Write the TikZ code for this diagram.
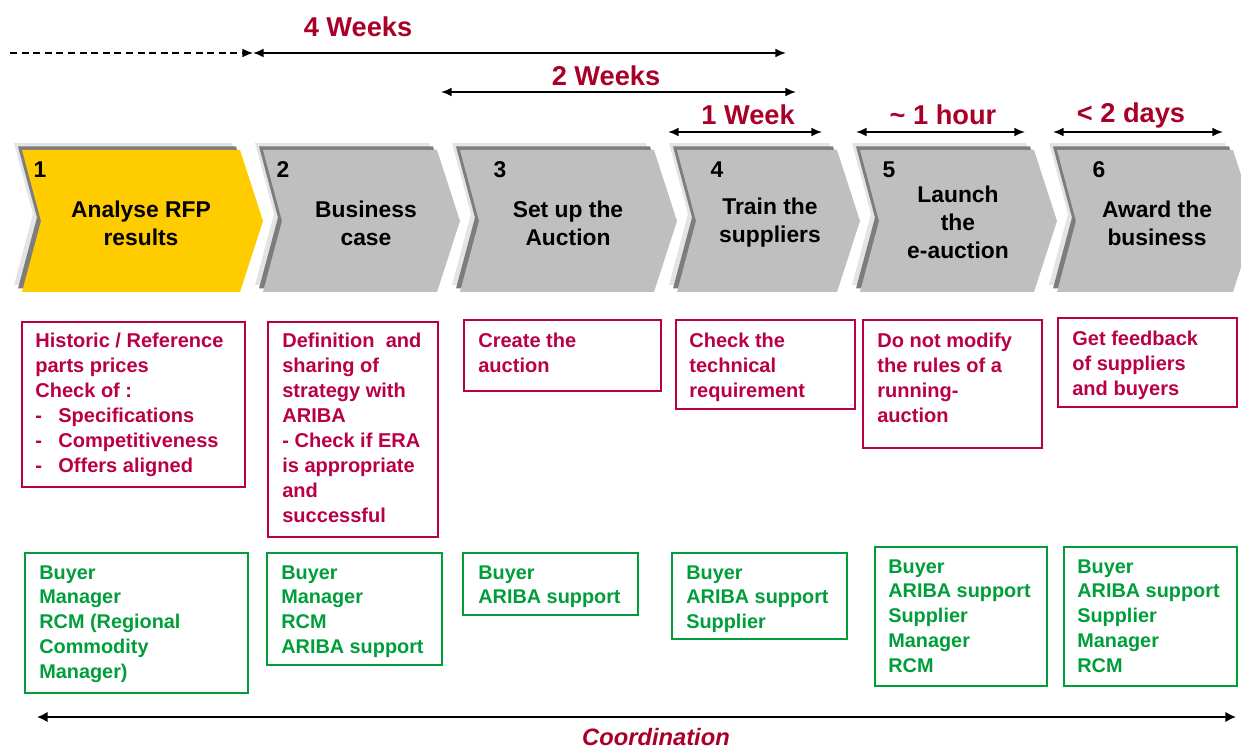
\documentclass[tikz,border=0pt]{standalone}
\usepackage{fontspec}
\setmainfont{Liberation Sans}
\usetikzlibrary{arrows.meta}
\definecolor{chevyellow}{RGB}{255,204,0}
\definecolor{chevgray}{RGB}{191,191,191}
\definecolor{shadedark}{RGB}{125,125,125}
\definecolor{shadelight}{RGB}{228,228,228}
\definecolor{timered}{RGB}{168,0,40}
\definecolor{taskred}{RGB}{185,0,70}
\definecolor{rolegreen}{RGB}{0,158,58}
\newcommand{\dashline}[1]{\makebox[0.46cm][l]{-}#1}
\begin{document}
\begin{tikzpicture}[x=0.02cm,y=-0.02cm,
  chevnum/.style={font=\fontsize{13}{15.9}\selectfont\bfseries,inner sep=0pt},
  chevtitle/.style={font=\fontsize{13}{15.9}\selectfont\bfseries,align=center,inner sep=0pt},
  timelabel/.style={font=\fontsize{15.5}{18}\selectfont\bfseries,text=timered,inner sep=0pt},
  timearrow/.style={line width=1pt,{Latex[length=6pt,width=5pt]}-{Latex[length=6pt,width=5pt]}},
  taskbox/.style={draw=taskred,line width=1.6pt},
  tasktext/.style={font=\fontsize{11.4}{14.2}\selectfont\bfseries,text=taskred,align=left,anchor=north west,inner sep=0pt},
  rolebox/.style={draw=rolegreen,line width=1.6pt},
  roletext/.style={font=\fontsize{11.3}{14.1}\selectfont\bfseries,text=rolegreen,align=left,anchor=north west,inner sep=0pt}]
\useasboundingbox (0,0) rectangle (1241,749);
\clip (0,0) rectangle (1241,749);

% chevrons with their bevel
\foreach \l/\r/\col in {22/240/chevyellow,263/437/chevgray,460/654/chevgray,677/837/chevgray,860/1034/chevgray,1057/1233/chevgray} {
  \fill[shadelight,shift={(-8,-7)}] (\l,150) -- (\r,150) -- (\r+23,221) -- (\r,292) -- (\l,292) -- (\l+19,221) -- cycle;
  \fill[shadedark,shift={(-4,-3.5)}] (\l,150) -- (\r,150) -- (\r+23,221) -- (\r,292) -- (\l,292) -- (\l+19,221) -- cycle;
  \fill[\col] (\l,150) -- (\r,150) -- (\r+23,221) -- (\r,292) -- (\l,292) -- (\l+19,221) -- cycle;
}

\node[chevnum] (n1) at (40,170) {1};
\node[chevnum] (n2) at (283,170) {2};
\node[chevnum] (n3) at (500,170) {3};
\node[chevnum] (n4) at (717,170) {4};
\node[chevnum] (n5) at (889,170) {5};
\node[chevnum] (n6) at (1099,170) {6};

\node[chevtitle] (s1) at (141,223) {Analyse RFP\\results};
\node[chevtitle] (s2) at (366,223) {Business\\case};
\node[chevtitle] (s3) at (568,223) {Set up the\\Auction};
\node[chevtitle] (s4) at (770,223) {Train the\\suppliers};
\node[chevtitle] (s5) at (958,222) {Launch\\the\\e-auction};
\node[chevtitle] (s6) at (1157,223) {Award the\\business};

% durations
\coordinate (dash0) at (10,53);
\coordinate (w4a) at (253,53);
\coordinate (w4b) at (786,53);
\coordinate (w2a) at (441,92);
\coordinate (w2b) at (796,92);
\coordinate (w1a) at (668,132);
\coordinate (w1b) at (822,132);
\coordinate (h1a) at (856,132);
\coordinate (h1b) at (1025,132);
\coordinate (d2a) at (1053,132);
\coordinate (d2b) at (1223,132);
\draw[line width=0.8pt,dash pattern=on 4pt off 2.6pt,-{Latex[length=6pt,width=5pt]}] (dash0) -- (w4a);
\draw[timearrow] (w4a) -- (w4b);
\draw[timearrow] (w2a) -- (w2b);
\draw[timearrow] (w1a) -- (w1b);
\draw[timearrow] (h1a) -- (h1b);
\draw[timearrow] (d2a) -- (d2b);
\node[timelabel] (t4w) at (358,27) {4 Weeks};
\node[timelabel] (t2w) at (606,76) {2 Weeks};
\node[timelabel] (t1w) at (748,115) {1 Week};
\node[timelabel] (t1h) at (943,115) {\textasciitilde{} 1 hour};
\node[timelabel] (t2d) at (1131,115) {< 2 days};

% tasks
\draw[taskbox] (22,322) rectangle (245,487);
\draw[taskbox] (268,322) rectangle (438,537);
\draw[taskbox] (464,320) rectangle (661,391);
\draw[taskbox] (676,320) rectangle (855,409);
\draw[taskbox] (863,320) rectangle (1042,448);
\draw[taskbox] (1058,318) rectangle (1237,407);
\node[tasktext] (r1) at (35,333) {Historic / Reference\\parts prices\\Check of :\\\dashline{Specifications}\\\dashline{Competitiveness}\\\dashline{Offers aligned}};
\node[tasktext] (r2) at (282,333) {Definition\ \ and\\sharing of\\strategy with\\ARIBA\\- Check if ERA\\is appropriate\\and\\successful};
\node[tasktext] (r3) at (478,333) {Create the\\auction};
\node[tasktext] (r4) at (689,333) {Check the\\technical\\requirement};
\node[tasktext] (r5) at (877,333) {Do not modify\\the rules of a\\running-\\auction};
\node[tasktext] (r6) at (1072,331) {Get feedback\\of suppliers\\and buyers};

% roles
\draw[rolebox] (25,553) rectangle (248,693);
\draw[rolebox] (267,553) rectangle (442,665);
\draw[rolebox] (463,553) rectangle (638,615);
\draw[rolebox] (672,553) rectangle (847,639);
\draw[rolebox] (875,547) rectangle (1047,686);
\draw[rolebox] (1064,547) rectangle (1237,686);
\node[roletext] (g1) at (39,565) {Buyer\\Manager\\RCM (Regional\\Commodity\\Manager)};
\node[roletext] (g2) at (281,565) {Buyer\\Manager\\RCM\\ARIBA support};
\node[roletext] (g3) at (478,565) {Buyer\\ARIBA support};
\node[roletext] (g4) at (686,565) {Buyer\\ARIBA support\\Supplier};
\node[roletext] (g5) at (888,559) {Buyer\\ARIBA support\\Supplier\\Manager\\RCM};
\node[roletext] (g6) at (1077,559) {Buyer\\ARIBA support\\Supplier\\Manager\\RCM};

% coordination
\coordinate (co1) at (37,717);
\coordinate (co2) at (1236,717);
\draw[line width=1.5pt,{Latex[length=6pt,width=6pt]}-{Latex[length=6pt,width=6pt]}] (co1) -- (co2);
\node[font=\fontsize{13.5}{16}\selectfont\bfseries\itshape,text=timered,inner sep=0pt] (coord) at (656,737) {Coordination};
\end{tikzpicture}
\end{document}
